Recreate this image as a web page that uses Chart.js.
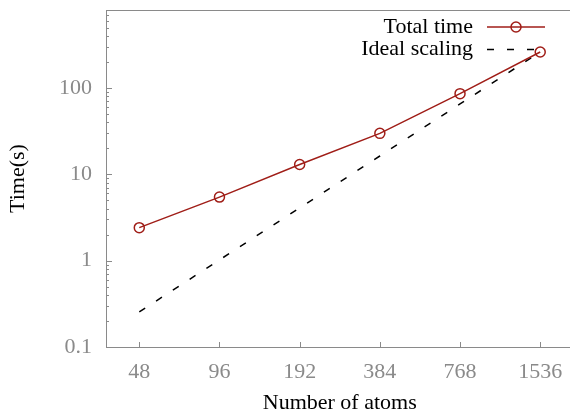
<!DOCTYPE html>
<html>
<head>
<meta charset="utf-8">
<script src="https://cdn.jsdelivr.net/npm/chart.js@4.4.1/dist/chart.umd.min.js"></script>
<style>
  html, body { margin: 0; padding: 0; overflow: hidden; background: #fff; }
  #wrap { width: 570px; height: 412px; overflow: hidden; position: relative; }
  canvas { display: block; }
</style>
</head>
<body>
<div id="wrap"><canvas id="chart" width="580" height="420"></canvas></div>
<script>
// data
const atoms = [48, 96, 192, 384, 768, 1536];
const totalTime = [2.41, 5.45, 13.0, 29.8, 86, 261];
const idealScaling = [0.255, 1.02, 4.08, 16.3, 65.3, 261];
const yMajorTicks = [0.1, 1, 10, 100];
const yTickLabels = ['0.1', '1', '10', '100'];
const seriesNames = ['Total time', 'Ideal scaling'];

const RED = '#a01e18';
const AXIS = '#8a8a8a';
const FONT = 'Liberation Serif';

// inward tick marks, gnuplot style
const inwardTicks = {
  id: 'inwardTicks',
  afterDraw(chart) {
    const { ctx, chartArea: a, scales: { x, y } } = chart;
    ctx.save();
    ctx.strokeStyle = AXIS;
    ctx.lineWidth = 1;
    ctx.beginPath();
    atoms.forEach(v => {
      const px = Math.round(x.getPixelForValue(v)) + 0.5;
      ctx.moveTo(px, a.bottom);
      ctx.lineTo(px, a.bottom - 5);
    });
    yMajorTicks.forEach(d => {
      const py = Math.round(y.getPixelForValue(d)) + 0.5;
      ctx.moveTo(a.left, py);
      ctx.lineTo(a.left + 6, py);
      for (let k = 2; k <= 9; k++) {
        const v = d * k;
        if (v > y.max) break;
        const pm = Math.round(y.getPixelForValue(v)) + 0.5;
        ctx.moveTo(a.left, pm);
        ctx.lineTo(a.left + 3, pm);
      }
    });
    ctx.stroke();
    ctx.restore();
  }
};

// legend: text right-aligned, sample to the right
const keyBox = {
  id: 'keyBox',
  afterDraw(chart) {
    const { ctx } = chart;
    const rows = [27, 49.5];
    ctx.save();
    ctx.font = `22px "${FONT}"`;
    ctx.fillStyle = '#000';
    ctx.textAlign = 'right';
    ctx.textBaseline = 'middle';
    chart.data.datasets.forEach((ds, i) => {
      const yy = rows[i];
      ctx.fillText(ds.label, 473, yy);
      ctx.strokeStyle = ds.borderColor;
      ctx.lineWidth = ds.borderWidth;
      ctx.setLineDash(ds.borderDash || []);
      ctx.beginPath();
      ctx.moveTo(487, yy);
      ctx.lineTo(545, yy);
      ctx.stroke();
      ctx.setLineDash([]);
      if (ds.pointRadius > 0) {
        ctx.lineWidth = ds.pointBorderWidth;
        ctx.strokeStyle = ds.pointBorderColor;
        ctx.beginPath();
        ctx.arc(516, yy, ds.pointRadius, 0, Math.PI * 2);
        ctx.stroke();
      }
    });
    ctx.restore();
  }
};

new Chart(document.getElementById('chart'), {
  type: 'line',
  data: {
    datasets: [
      {
        label: seriesNames[0],
        data: atoms.map((a, i) => ({ x: a, y: totalTime[i] })),
        borderColor: RED,
        borderWidth: 1.5,
        pointRadius: 5,
        pointBorderWidth: 1.5,
        pointBorderColor: RED,
        pointBackgroundColor: 'rgba(0,0,0,0)',
        tension: 0,
      },
      {
        label: seriesNames[1],
        data: atoms.map((a, i) => ({ x: a, y: idealScaling[i] })),
        borderColor: '#000',
        borderWidth: 1.5,
        borderDash: [7, 13],
        pointRadius: 0,
        tension: 0,
      },
    ],
  },
  options: {
    responsive: false,
    animation: false,
    layout: { padding: { top: 10, right: 4, bottom: 4, left: 0 } },
    plugins: { legend: { display: false }, tooltip: { enabled: false } },
    scales: {
      x: {
        type: 'logarithmic',
        position: 'bottom',
        min: 36, max: 2048,
        afterBuildTicks: s => { s.ticks = atoms.map(v => ({ value: v })); },
        afterFit: s => { s.height = 69; s.paddingLeft = 0; s.paddingRight = 0; },
        ticks: { color: AXIS, font: { family: FONT, size: 22 }, padding: 12, maxRotation: 0, autoSkip: false,
                 callback: v => String(v) },
        grid: { display: false, drawTicks: false },
        border: { display: true, color: AXIS, width: 1 },
        title: { display: true, text: 'Number of atoms', color: '#000', font: { family: FONT, size: 22 }, padding: 0 },
      },
      xTop: {
        type: 'logarithmic',
        position: 'top',
        min: 36, max: 2048,
        afterFit: s => { s.height = 0; s.paddingLeft = 0; s.paddingRight = 0; },
        ticks: { display: false },
        grid: { display: false, drawTicks: false },
        border: { display: true, color: AXIS, width: 1 },
      },
      y: {
        type: 'logarithmic',
        min: 0.1, max: 800,
        afterBuildTicks: s => { s.ticks = yMajorTicks.map(v => ({ value: v })); },
        afterFit: s => { s.width = 106; s.paddingTop = 0; s.paddingBottom = 0; },
        ticks: { color: AXIS, font: { family: FONT, size: 22 }, padding: 14, autoSkip: false,
                 callback: (v) => yTickLabels[yMajorTicks.indexOf(v)] ?? '' },
        grid: { display: false, drawTicks: false },
        border: { display: true, color: AXIS, width: 1 },
        title: { display: true, text: 'Time(s)', color: '#000', font: { family: FONT, size: 22 }, padding: { top: 5, bottom: 0 } },
      },
    },
  },
  plugins: [inwardTicks, keyBox],
});
</script>
</body>
</html>
